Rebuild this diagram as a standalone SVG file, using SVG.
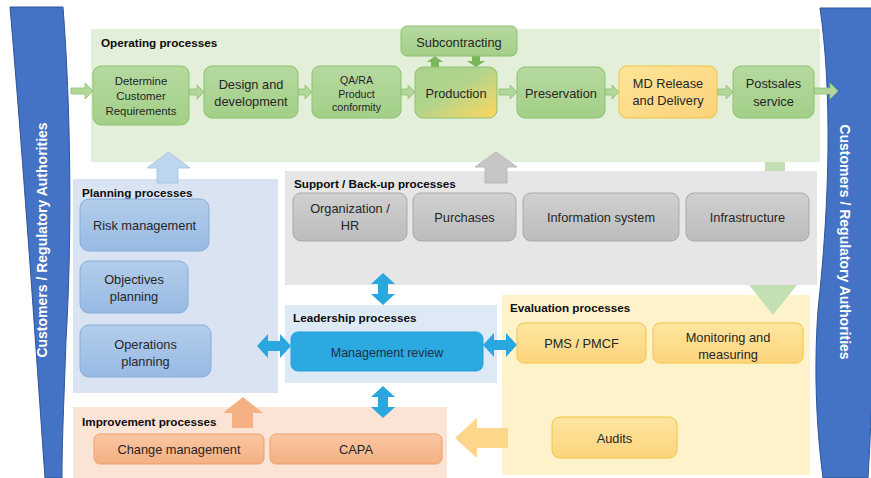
<svg xmlns="http://www.w3.org/2000/svg" width="871" height="478" viewBox="0 0 871 478">
<defs>
<linearGradient id="gGreen" x1="0" y1="0" x2="0" y2="1"><stop offset="0" stop-color="#b6d99f"/><stop offset="1" stop-color="#a3cf88"/></linearGradient>
<linearGradient id="gProd" x1="0" y1="0" x2="1" y2="1"><stop offset="0" stop-color="#a9d18e"/><stop offset="0.45" stop-color="#b2d48c"/><stop offset="1" stop-color="#ffd75e"/></linearGradient>
<linearGradient id="gMD" x1="0" y1="0" x2="1" y2="1"><stop offset="0" stop-color="#fde598"/><stop offset="1" stop-color="#fcd27a"/></linearGradient>
<linearGradient id="gGrey" x1="0" y1="0" x2="0" y2="1"><stop offset="0" stop-color="#d0d0d0"/><stop offset="1" stop-color="#bcbcbc"/></linearGradient>
<linearGradient id="gBlue" x1="0" y1="0" x2="0" y2="1"><stop offset="0" stop-color="#b3cdeb"/><stop offset="1" stop-color="#97bae3"/></linearGradient>
<linearGradient id="gYel" x1="0" y1="0" x2="0" y2="1"><stop offset="0" stop-color="#fee6a0"/><stop offset="1" stop-color="#fdd47c"/></linearGradient>
<linearGradient id="gOr" x1="0" y1="0" x2="0" y2="1"><stop offset="0" stop-color="#f9c7a3"/><stop offset="1" stop-color="#f4b083"/></linearGradient>
<clipPath id="clipMon"><rect x="653" y="323" width="150" height="40" rx="7"/></clipPath>
</defs>
<style>
text{font-family:"Liberation Sans",Arial,sans-serif;fill:#262626}
.t{font-size:12.8px;text-anchor:middle}
.h{font-size:11.7px;font-weight:bold;fill:#0d0d0d}
.band{fill:#4472c4;stroke:#2f5597;stroke-width:1}
.bt{font-size:14px;font-weight:bold;fill:#ffffff;text-anchor:middle}
.gb{fill:url(#gGreen);stroke:#8cc270;stroke-width:1}
.gr{fill:url(#gGrey);stroke:#a9a9a9;stroke-width:1}
.bb{fill:url(#gBlue);stroke:#86acd9;stroke-width:1}
.yb{fill:url(#gYel);stroke:#f3c443;stroke-width:1}
.ob{fill:url(#gOr);stroke:#ec9f6c;stroke-width:1}
.ga{fill:#b3d79b;stroke:#8cc270;stroke-width:0.8}
.da{fill:#2ba7df}
</style>

<g id="bands">
<g id="band-left">
<path class="band" d="M10,7 L63,7 C71,110 72,240 66,340 C64,400 62,440 62,478 L45,478 C36,350 24,170 10,7 Z"/>
<text class="bt" transform="translate(42,240) rotate(-90)" dy="5">Customers / Regulatory Authorities</text>
</g>
<g id="band-right">
<path class="band" d="M820,8 C832,90 830,200 818,310 C813,380 818,440 823,478 L868,478 C874,380 878,200 878,8 Z"/>
<text class="bt" transform="translate(845,242) rotate(90)" dy="5">Customers / Regulatory Authorities</text>
</g>
</g>

<g id="containers">
<g id="operating"><rect x="91" y="29" width="729" height="133" fill="#e3efd9"/><text class="h" x="101" y="47">Operating processes</text></g>
<g id="support"><rect x="285" y="171" width="532" height="114" fill="#e6e6e6"/><text class="h" x="294" y="188">Support / Back-up processes</text></g>
<g id="planning"><rect x="73" y="179" width="205" height="214" fill="#dae3f1"/><text class="h" x="82" y="197">Planning processes</text></g>
<g id="leadership"><rect x="285" y="305" width="212" height="78" fill="#ddeaf6"/><text class="h" x="293" y="322">Leadership processes</text></g>
<g id="evaluation"><rect x="502" y="295" width="308" height="180" fill="#fef2cb"/><text class="h" x="510" y="312">Evaluation processes</text></g>
<g id="improvement"><rect x="73" y="407" width="374" height="71" fill="#fbe4d5"/><text class="h" x="82" y="426">Improvement processes</text></g>
</g>

<g id="connectors">
<rect x="765" y="162" width="20" height="9" fill="#c4e0b2"/>
<path d="M765,285 L785,285 L785,285 L797,285 L773,315 L749,285 L765,285 Z" fill="#c4e0b2"/>
<path d="M157,183 L157,168 L147,168 L168.5,152 L190,168 L178,168 L178,183 Z" fill="#bdd6ee" stroke="#9fc2e6" stroke-width="0.8"/>
<path d="M485,183 L485,167 L475,167 L496,152 L517,167 L507,167 L507,183 Z" fill="#c6c6c6" stroke="#b0b0b0" stroke-width="0.8"/>
<path d="M232,428 L232,413 L223,413 L243,397 L263,413 L253,413 L253,428 Z" fill="#f5b183"/>
<path d="M508,428 L477,428 L477,418 L455,438 L477,458 L477,448 L508,448 Z" fill="#fdd68c"/>
<path class="ga" d="M71,88 L85,88 L85,83 L93,91 L85,99 L85,94 L71,94 Z"/>
<path class="ga" d="M189,89 L197,89 L197,85 L204,92 L197,99 L197,95 L189,95 Z"/>
<path class="ga" d="M298,89 L305,89 L305,85 L312,92 L305,99 L305,95 L298,95 Z"/>
<path class="ga" d="M401,89 L408,89 L408,85 L415,92 L408,99 L408,95 L401,95 Z"/>
<path class="ga" d="M499,89 L510,89 L510,85 L517,92 L510,99 L510,95 L499,95 Z"/>
<path class="ga" d="M605,89 L612,89 L612,85 L619,92 L612,99 L612,95 L605,95 Z"/>
<path class="ga" d="M717,89 L726,89 L726,85 L733,92 L726,99 L726,95 L717,95 Z"/>
<path class="ga" d="M814,88 L830,88 L830,83 L838,91 L830,99 L830,94 L814,94 Z"/>
<path d="M431,67 L431,62 L427,62 L435,56 L443,62 L439,62 L439,67 Z" fill="#79b85a"/>
<path d="M472,56 L480,56 L480,61 L485,61 L476,67 L467,61 L472,61 Z" fill="#79b85a"/>
<path class="da" d="M257,346 L268,334 L268,341 L280,341 L280,334 L291,346 L280,358 L280,351 L268,351 L268,358 Z"/>
<path class="da" d="M483,345 L494,333 L494,340 L506,340 L506,333 L517,345 L506,357 L506,350 L494,350 L494,357 Z"/>
<path class="da" d="M383,273 L395,284 L388,284 L388,294 L395,294 L383,305 L371,294 L378,294 L378,284 L371,284 Z"/>
<path class="da" d="M383,386 L395,397 L388,397 L388,407 L395,407 L383,418 L371,407 L378,407 L378,397 L371,397 Z"/>
</g>

<g id="nodes">
<g id="n-determine"><rect class="gb" x="93" y="66" width="96" height="59" rx="8"/><text class="t" style="font-size:11.4px" x="141" y="85">Determine</text><text class="t" style="font-size:11.4px" x="141" y="100">Customer</text><text class="t" style="font-size:11.4px" x="141" y="115">Requirements</text></g>
<g id="n-design"><rect class="gb" x="204" y="66" width="94" height="52" rx="8"/><text class="t" x="251" y="88.5">Design and</text><text class="t" x="251" y="105.5">development</text></g>
<g id="n-qara"><rect class="gb" x="312" y="66" width="89" height="52" rx="8"/><text class="t" style="font-size:10.6px" x="356.5" y="84">QA/RA</text><text class="t" style="font-size:10.6px" x="356.5" y="98">Product</text><text class="t" style="font-size:10.6px" x="356.5" y="111">conformity</text></g>
<g id="n-production"><rect x="415" y="67" width="82" height="51" rx="8" fill="url(#gProd)" stroke="#8cc270"/><text class="t" x="456" y="97.5">Production</text></g>
<g id="n-subcontracting"><rect class="gb" x="401" y="26" width="116" height="30" rx="6"/><text class="t" x="459" y="46.5">Subcontracting</text></g>
<g id="n-preservation"><rect class="gb" x="517" y="67" width="88" height="51" rx="8"/><text class="t" x="561" y="97.5">Preservation</text></g>
<g id="n-mdrelease"><rect x="619" y="66" width="98" height="52" rx="8" fill="url(#gMD)" stroke="#f3c443"/><text class="t" x="668" y="87.5">MD Release</text><text class="t" x="668" y="104.5">and Delivery</text></g>
<g id="n-postsales"><rect class="gb" x="733" y="66" width="81" height="52" rx="8"/><text class="t" x="773.5" y="87.5">Postsales</text><text class="t" x="773.5" y="105.5">service</text></g>

<g id="n-org"><rect class="gr" x="293" y="193" width="114" height="48" rx="8"/><text class="t" x="350" y="212.5">Organization /</text><text class="t" x="350" y="229.5">HR</text></g>
<g id="n-purchases"><rect class="gr" x="413" y="193" width="103" height="48" rx="8"/><text class="t" x="464.5" y="221.5">Purchases</text></g>
<g id="n-infosys"><rect class="gr" x="523" y="193" width="156" height="48" rx="8"/><text class="t" x="601" y="221.5">Information system</text></g>
<g id="n-infra"><rect class="gr" x="686" y="193" width="123" height="48" rx="8"/><text class="t" x="747.5" y="221.5">Infrastructure</text></g>

<g id="n-risk"><rect class="bb" x="80" y="199" width="129" height="52" rx="9"/><text class="t" x="144.5" y="229.5">Risk management</text></g>
<g id="n-objectives"><rect class="bb" x="80" y="261" width="108" height="52" rx="9"/><text class="t" x="134" y="283.5">Objectives</text><text class="t" x="134" y="300.5">planning</text></g>
<g id="n-operations"><rect class="bb" x="80" y="325" width="131" height="52" rx="9"/><text class="t" x="145.5" y="348.5">Operations</text><text class="t" x="145.5" y="365.5">planning</text></g>

<g id="n-mgmt"><rect x="291" y="332" width="192" height="39" rx="7" fill="#2ca9e1" stroke="#22a0d9"/><text class="t" style="font-size:12.5px;fill:#1c2f45" x="387" y="356.5">Management review</text></g>

<g id="n-pms"><rect class="yb" x="517" y="323" width="129" height="40" rx="7"/><text class="t" x="581.5" y="347.5">PMS / PMCF</text></g>
<g id="n-monitoring"><rect class="yb" x="653" y="323" width="150" height="40" rx="7"/><g clip-path="url(#clipMon)"><text class="t" x="728" y="341.5">Monitoring and</text><text class="t" x="728" y="358.5">measuring</text></g></g>
<g id="n-audits"><rect class="yb" x="552" y="417" width="125" height="41" rx="8"/><text class="t" x="614.5" y="442.5">Audits</text></g>

<g id="n-change"><rect class="ob" x="94" y="434" width="170" height="30" rx="6"/><text class="t" x="179" y="453.5">Change management</text></g>
<g id="n-capa"><rect class="ob" x="270" y="434" width="172" height="30" rx="6"/><text class="t" x="356" y="453.5">CAPA</text></g>
</g>
</svg>
